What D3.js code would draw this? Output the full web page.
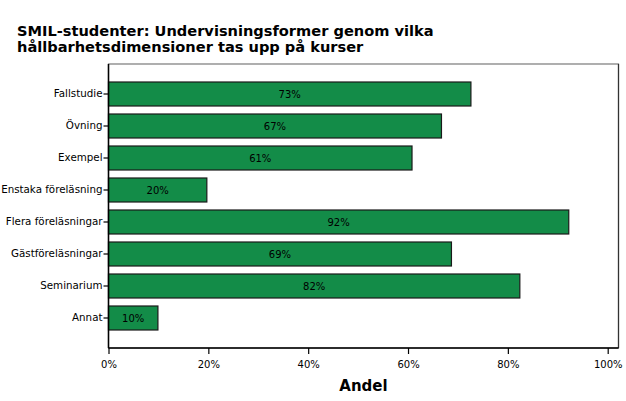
<!DOCTYPE html>
<html>
<head>
<meta charset="utf-8">
<script src="https://cdn.jsdelivr.net/npm/d3@7"></script>
<style>
  body { margin: 0; background: #fff; }
  svg { display: block; }
</style>
</head>
<body>
<div class="chart"></div>
<script>
var categories = ["Fallstudie", "Övning", "Exempel", "Enstaka föreläsning",
    "Flera föreläsningar", "Gästföreläsningar", "Seminarium", "Annat"];
var shares = [72.6, 66.7, 60.8, 19.7, 92.2, 68.7, 82.4, 9.9];
var xTicks = [0, 20, 40, 60, 80, 100];
var titleLines = ["SMIL-studenter: Undervisningsformer genom vilka",
    "hållbarhetsdimensioner tas upp på kurser"];

var width = 626, height = 401;
var frame = { left: 108.5, top: 64, right: 618.5, bottom: 348 };

var svg = d3.select(".chart")
    .append("svg")
    .attr("width", width)
    .attr("height", height)
    .style("font-family", "'DejaVu Sans', sans-serif");

var x = d3.scaleLinear().domain([0, 100]).range([frame.left, 607.7]);
var y = d3.scaleBand()
    .domain(categories)
    .range([frame.top, frame.bottom])
    .paddingInner(0.25)
    .paddingOuter(0.5625);

// title
svg.append("g")
    .selectAll("text")
    .data(titleLines)
    .enter()
    .append("text")
    .attr("x", 17)
    .attr("y", (d, i) => 36 + i * 16)
    .style("font-size", "14.6px")
    .style("font-weight", "bold")
    .style("fill", "#000")
    .text((d) => d);

// plot frame
svg.append("rect")
    .attr("x", frame.left)
    .attr("y", frame.top)
    .attr("width", frame.right - frame.left)
    .attr("height", frame.bottom - frame.top)
    .style("fill", "#fff")
    .style("stroke", "#7a7a7a")
    .style("stroke-width", 1.2);

svg.append("line")
    .attr("x1", frame.right).attr("x2", frame.right)
    .attr("y1", frame.top).attr("y2", frame.bottom)
    .style("stroke", "#333")
    .style("stroke-width", 1.2);

// bars
var data = categories.map((c, i) => ({ name: c, value: shares[i] }));

svg.append("g")
    .selectAll("rect")
    .data(data)
    .enter()
    .append("rect")
    .attr("x", x(0))
    .attr("y", (d) => y(d.name))
    .attr("width", (d) => x(d.value) - x(0))
    .attr("height", y.bandwidth())
    .style("fill", "#138c48")
    .style("stroke", "#1a1a1a")
    .style("stroke-width", 1.2);

svg.append("g")
    .selectAll("text")
    .data(data)
    .enter()
    .append("text")
    .attr("x", (d) => (x(0) + x(d.value)) / 2)
    .attr("y", (d) => y(d.name) + y.bandwidth() / 2 + 4)
    .attr("text-anchor", "middle")
    .style("font-size", "10px")
    .style("fill", "#000")
    .text((d) => Math.round(d.value) + "%");

// axes
var xAxis = svg.append("g")
    .attr("transform", `translate(0,${frame.bottom})`)
    .call(d3.axisBottom(x).tickValues(xTicks).tickSize(6).tickSizeOuter(0)
        .tickFormat((d) => d + "%"));
xAxis.select(".domain")
    .attr("d", `M${frame.left},0H${frame.right}`)
    .style("stroke", "#000")
    .style("stroke-width", 1.5);
xAxis.selectAll(".tick line").style("stroke", "#000").style("stroke-width", 1.2);
xAxis.selectAll(".tick text")
    .attr("y", 13)
    .style("font-family", "'DejaVu Sans', sans-serif")
    .style("font-size", "10px")
    .style("fill", "#000");

var yAxis = svg.append("g")
    .attr("transform", `translate(${frame.left},0)`)
    .call(d3.axisLeft(y).tickSize(5).tickSizeOuter(0));
yAxis.select(".domain")
    .attr("d", `M0,${frame.top}V${frame.bottom}`)
    .style("stroke", "#000")
    .style("stroke-width", 1.5);
yAxis.selectAll(".tick line").style("stroke", "#000").style("stroke-width", 1.2);
yAxis.selectAll(".tick text")
    .attr("x", -6)
    .style("font-family", "'DejaVu Sans', sans-serif")
    .style("font-size", "10.3px")
    .style("fill", "#000");

// axis title
svg.append("text")
    .attr("x", (frame.left + frame.right) / 2)
    .attr("y", 391)
    .attr("text-anchor", "middle")
    .style("font-size", "15px")
    .style("font-weight", "bold")
    .style("fill", "#000")
    .text("Andel");
</script>
</body>
</html>
